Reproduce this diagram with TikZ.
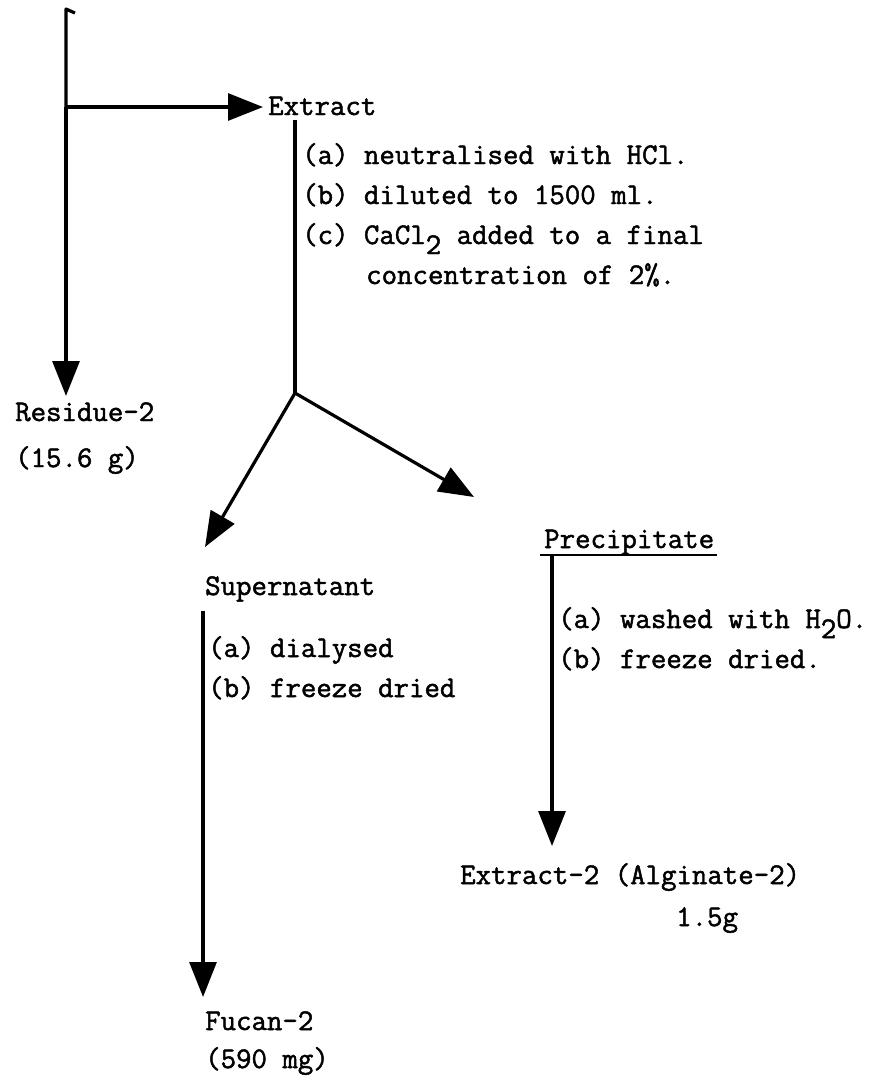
\documentclass[tikz,border=0pt]{standalone}
\usepackage{fontspec}
\usetikzlibrary{arrows.meta}
% typewriter face with a slightly heavier stroke
\newfontfamily\typewriter{Latin Modern Mono}[FakeBold=1.6]
\begin{document}
\begin{tikzpicture}[x=1pt,y=-1pt,
  flow/.style={line width=3.2pt, -{Triangle[length=35pt,width=27pt]}},
  plain/.style={line width=3.2pt},
  txt/.style={anchor=base west, inner sep=0pt, font=\fontsize{30}{36}\selectfont\typewriter}]
\useasboundingbox (0,0) rectangle (884,1088);

% text nodes
\node[txt] (extract) at (268,115) {Extract};
\node[txt] (exa) at (302,164) {(a) neutralised with HCl.};
\node[txt] (exb) at (302,204) {(b) diluted to 1500 ml.};
\node[txt] (exc) at (302,244) {(c) CaCl\raisebox{-10pt}{2} added to a final};
\node[txt] (exd) at (366,284) {concentration of 2\%.};
\node[txt] (res) at (15,421) {Residue-2};
\node[txt] (resw) at (15,467) {(15.6 g)};
\node[txt] (sup) at (205,595) {Supernatant};
\node[txt] (supa) at (208,657) {(a) dialysed};
\node[txt] (supb) at (208,697) {(b) freeze dried};
\node[txt] (fuc) at (205,1030) {Fucan-2};
\node[txt] (fucw) at (205,1068) {(590 mg)};
\node[txt] (pre) at (544,548) {Precipitate};
\node[txt] (prea) at (558,628) {(a) washed with H\raisebox{-10pt}{2}O.};
\node[txt] (preb) at (558,668) {(b) freeze dried.};
\node[txt] (alg) at (460,884) {Extract-2 (Alginate-2)};
\node[txt] (algw) at (676,926) {1.5g};

% junction and end points of the connectors
\coordinate (hook) at (75,13);
\coordinate (top) at (66,9);
\coordinate (side) at (66,107);
\coordinate (resend) at (66,396);
\coordinate (extin) at (263,107);
\coordinate (extout) at (295,120);
\coordinate (split) at (295,393);
\coordinate (supin) at (205,547);
\coordinate (prein) at (474,497);
\coordinate (supout) at (203,611);
\coordinate (fucin) at (203,997);
\coordinate (ulL) at (540,555);
\coordinate (ulR) at (717,555);
\coordinate (preout) at (552,555);
\coordinate (algin) at (552,846);

% connectors
\draw[plain, line join=round] (hook) -- (top) -- (side);
\draw[flow] (side) -- (resend);
\draw[flow] (side) -- (extin);
\draw[plain] (extout) -- (split);
\draw[flow] (split) -- (supin);
\draw[flow] (split) -- (prein);
\draw[flow] (supout) -- (fucin);
\draw[line width=2.4pt] (ulL) -- (ulR);
\draw[flow] (preout) -- (algin);
\end{tikzpicture}
\end{document}
